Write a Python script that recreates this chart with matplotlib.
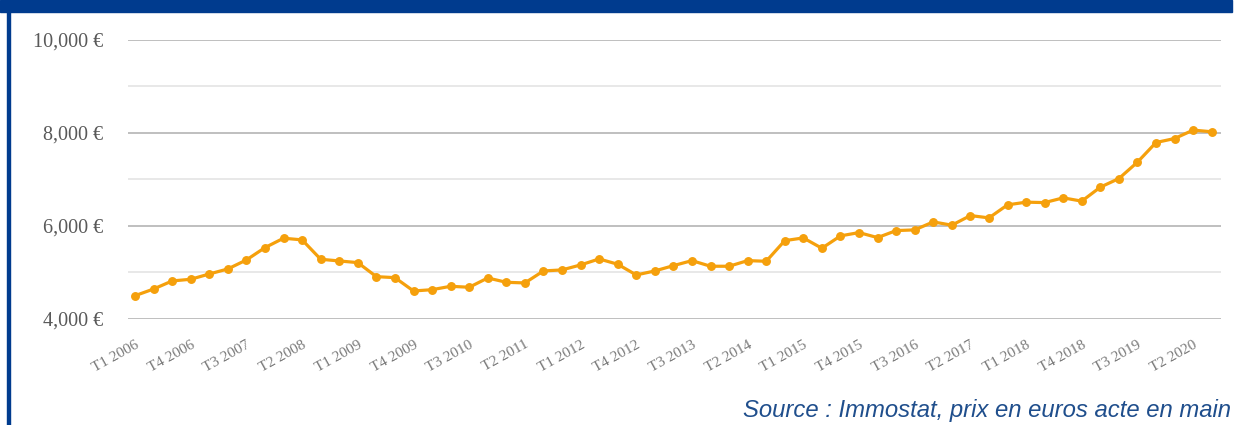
import numpy as np
import matplotlib
matplotlib.use("Agg")
import matplotlib.pyplot as plt
from matplotlib.patches import Rectangle
from matplotlib.ticker import FuncFormatter, MultipleLocator

# quarterly price per m2, T1 2006 .. T3 2020
years = list(range(2006, 2021))
quarters = [f"T{q} {y}" for y in years for q in range(1, 5)][:59]
prices = [4495, 4639, 4812, 4848, 4962, 5070, 5264, 5529, 5731, 5695,
          5278, 5242, 5206, 4904, 4883, 4596, 4624, 4697, 4676, 4876,
          4783, 4769, 5027, 5049, 5156, 5285, 5171, 4941, 5027, 5141,
          5249, 5128, 5128, 5249, 5235, 5679, 5737, 5515, 5781, 5852,
          5744, 5895, 5910, 6082, 6011, 6218, 6168, 6448, 6506, 6497,
          6599, 6528, 6829, 7014, 7367, 7789, 7875, 8056, 8020]
source = "Source : Immostat, prix en euros acte en main"

W, H = 1237, 425
fig = plt.figure(figsize=(W / 100, H / 100), dpi=100)

# frame decorations
blue = "#003b8e"
fig.patches.append(Rectangle((0, 1 - 12 / H), 1232 / W, 12 / H,
                             transform=fig.transFigure, color=blue, zorder=0))
fig.patches.append(Rectangle((7 / W, 0), 2.5 / W, 1,
                             transform=fig.transFigure, color=blue, zorder=0))

ax = fig.add_axes([128 / W, 1 - 318.7 / H, (1221 - 128) / W, (318.7 - 39.7) / H])
x = np.arange(len(prices))
ax.plot(x, prices, color="#f5a00c", lw=2.3, marker="o", ms=5.4,
        solid_joinstyle="round", zorder=3)

ax.set_ylim(4000, 10000)
ax.set_xlim(-0.38, 58.5)
ax.yaxis.set_major_locator(MultipleLocator(2000))
ax.yaxis.set_minor_locator(MultipleLocator(1000))
ax.yaxis.set_major_formatter(FuncFormatter(lambda v, p: f"{v:,.0f} €"))
ax.grid(axis="y", which="major", color="#b4b4b4", lw=1.2)
ax.grid(axis="y", which="minor", color="#e4e4e4", lw=1.2)
ax.set_axisbelow(True)
for s in ax.spines.values():
    s.set_visible(False)

ax.set_xticks(x[::3])
ax.set_xticklabels(quarters[::3], rotation=29, ha="right",
                   rotation_mode="anchor", fontsize=11,
                   family="Liberation Serif", color="#7a7a7a")
ax.tick_params(axis="x", length=0, pad=14)
ax.tick_params(axis="y", which="both", length=0, pad=18)
for lab in ax.get_yticklabels():
    lab.set_family("Liberation Serif")
    lab.set_fontsize(14.5)
    lab.set_color("#595959")

fig.text(1231 / W, 1 - 417 / H, source, ha="right", va="baseline",
         fontsize=17.2, style="italic", family="Liberation Sans",
         color="#1f4e8c")

fig.savefig("out.png", dpi=100)
